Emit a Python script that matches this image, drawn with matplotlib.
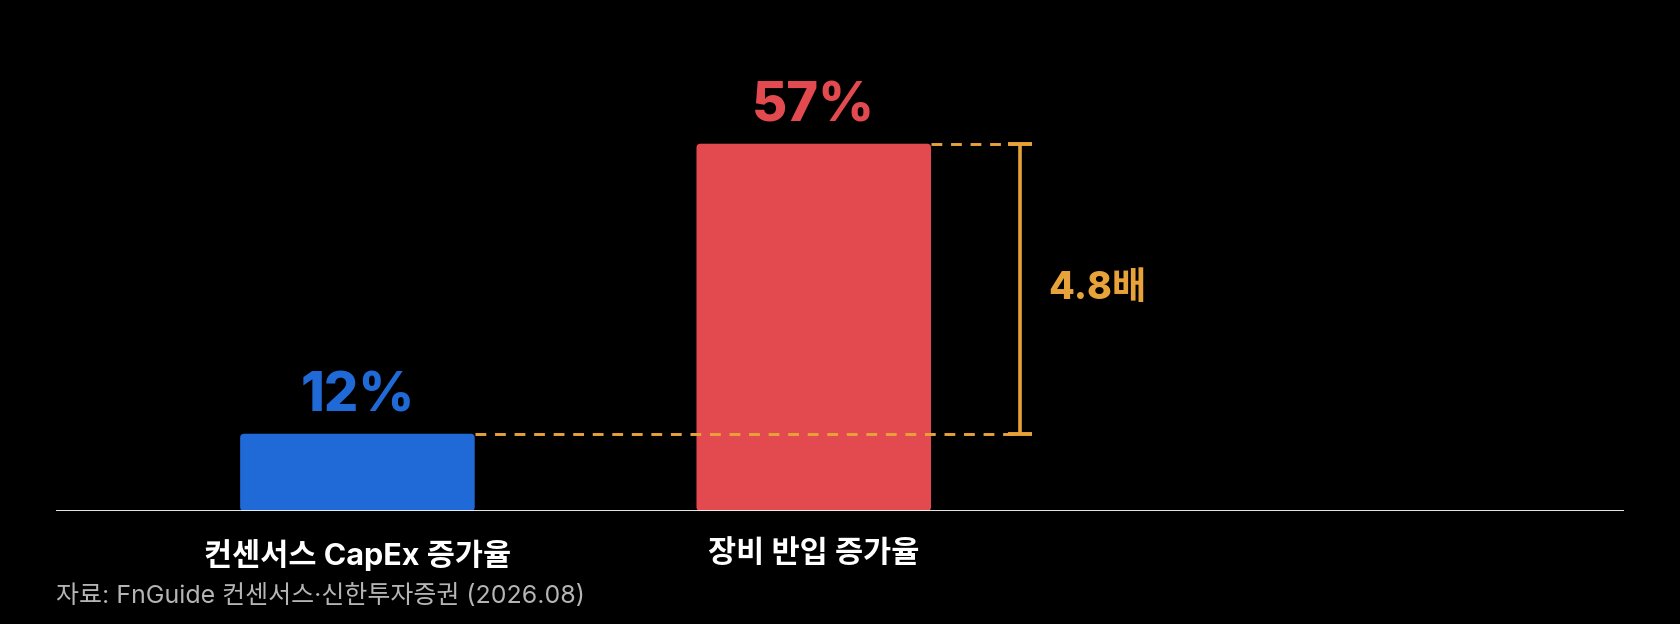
import matplotlib
matplotlib.use("Agg")
import matplotlib.pyplot as plt
from matplotlib.patches import FancyBboxPatch

# data
categories = ["컨센서스 CapEx 증가율", "장비 반입 증가율"]
values = [12, 57]
value_labels = ["12%", "57%"]
ratio_label = "4.8배"
source = "자료: FnGuide 컨센서스·신한투자증권 (2026.08)"

BLUE = "#1F6AD6"
RED = "#E34A4F"
ORANGE = "#E8A23A"
colors = [BLUE, RED]

plt.rcParams["font.family"] = ["Inter", "Noto Sans CJK KR", "DejaVu Sans"]

fig = plt.figure(figsize=(16.8, 6.24), dpi=100, facecolor="black")
ax = fig.add_axes([0.0332, 0.181, 0.9336, 0.819])
ax.set_facecolor("black")

x = list(range(len(categories)))
width = 0.514
bars = ax.bar(x, values, width=width, color=colors, zorder=2)

# swap plain bars for slightly rounded ones
for b, c in zip(bars, colors):
    b.set_visible(False)
    ax.add_patch(FancyBboxPatch((b.get_x(), b.get_y()), b.get_width(), b.get_height(),
                                boxstyle="round,pad=0,rounding_size=0.009",
                                mutation_aspect=70.8, facecolor=c, edgecolor="none",
                                zorder=2))

ax.set_xlim(-0.661, 2.776)
ax.set_ylim(0, 79.3)

# value labels
for xi, v, lab, c in zip(x, values, value_labels, colors):
    ax.text(xi, v + 3.5, lab, ha="center", va="baseline", fontsize=39,
            fontweight="heavy", color=c)

# baseline
ax.axhline(0, color="white", lw=2, zorder=3)

# dashed guides (drawn over the bars) + bracket
bx = 1.452
dash = (0, (3.7, 3.0))
ax.hlines(values[0], x[0] + width / 2, bx, colors=ORANGE, lw=2.1,
          linestyles=dash, zorder=4)
ax.hlines(values[1], x[1] + width / 2, bx, colors=ORANGE, lw=2.1,
          linestyles=dash, zorder=4)
ax.vlines(bx, values[0], values[1], colors=ORANGE, lw=2.6, zorder=4)
ax.hlines(values, bx - 0.027, bx + 0.027, colors=ORANGE, lw=2.8, zorder=4)
ax.text(bx + 0.061, (values[0] + values[1]) / 2, ratio_label, ha="left", va="center",
        fontsize=27, fontweight="heavy", color=ORANGE)

ax.set_xticks(x)
ax.set_xticklabels(categories, fontsize=22, fontweight="bold", color="white")
ax.tick_params(axis="x", length=0, pad=20)
ax.set_yticks([])
for s in ax.spines.values():
    s.set_visible(False)

fig.text(0.0332, 0.045, source, ha="left", va="center", fontsize=18, color="#B5B5B5")

fig.savefig("out.png", dpi=100, facecolor="black")
